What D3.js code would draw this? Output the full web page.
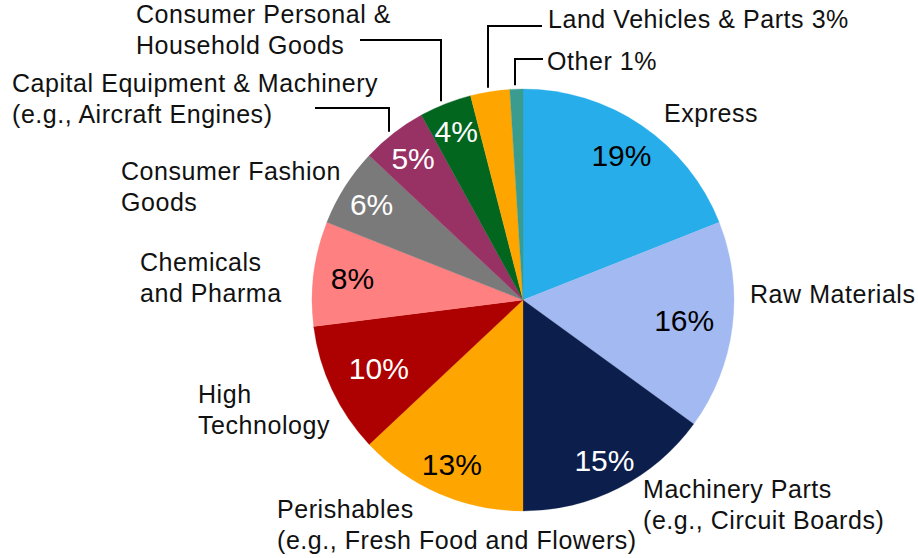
<!DOCTYPE html>
<html>
<head>
<meta charset="utf-8">
<script src="https://cdn.jsdelivr.net/npm/d3@7"></script>
<style>
  body { margin: 0; background: #fff; }
  svg text { font-family: "Liberation Sans", Arial, sans-serif; }
</style>
</head>
<body>
<svg id="pie_chart" width="918" height="558" viewBox="0 0 918 558"></svg>
<script>
// Data
const categories = [
    "Express", "Raw Materials", "Machinery Parts", "Perishables", "High Technology",
    "Chemicals and Pharma", "Consumer Fashion Goods", "Capital Equipment & Machinery",
    "Consumer Personal & Household Goods", "Land Vehicles & Parts", "Other"
];
const shares = [19, 16, 15, 13, 10, 8, 6, 5, 4, 3, 1];
const sliceColors = [
    "#27AEEA", "#A3B9F1", "#0C1E4C", "#FFA500", "#AD0000",
    "#FF8080", "#7A7A7A", "#983264", "#02661F", "#FFA500", "#3A9B8F"
];
// label text lines for each category
const labelLines = [
    ["Express"],
    ["Raw Materials"],
    ["Machinery Parts", "(e.g., Circuit Boards)"],
    ["Perishables", "(e.g., Fresh Food and Flowers)"],
    ["High", "Technology"],
    ["Chemicals", "and Pharma"],
    ["Consumer Fashion", "Goods"],
    ["Capital Equipment & Machinery", "(e.g., Aircraft Engines)"],
    ["Consumer Personal &", "Household Goods"],
    ["Land Vehicles & Parts 3%"],
    ["Other 1%"]
];

// Layout
const cx = 523, cy = 300, radius = 211;
const lineGap = 31;
// outer label positions (left x, first baseline)
const labelPos = [
    [664, 122], [750, 303], [643, 498], [277, 518], [198, 403], [140, 271],
    [121, 180], [12, 92], [136, 23], [548, 28], [547, 70]
];
// radius factor for percentage labels inside slices (null = no inner label)
const pctRadius = [0.83, 0.77, 0.85, 0.85, 0.755, 0.815, 0.85, 0.85, 0.86, null, null];
const pctColor = ["#000", "#000", "#fff", "#000", "#fff", "#000", "#fff", "#fff", "#fff", null, null];
// leader lines: horizontal from x0 to elbow x at y, then down to the pie edge
const leaders = [
    { x0: 315, x1: 389, y: 108 },
    { x0: 360, x1: 441, y: 40 },
    { x0: 542, x1: 488, y: 26 },
    { x0: 543, x1: 515, y: 59 }
];

const svg = d3.select("#pie_chart");
const data = categories.map((c, i) => ({ name: c, value: shares[i], i: i }));

const pie = d3.pie().sort(null).value(d => d.value);
const arc = d3.arc().innerRadius(0).outerRadius(radius);
const arcs = pie(data);

const g = svg.append("g").attr("transform", `translate(${cx},${cy})`);

g.selectAll("path.slice")
    .data(arcs)
    .enter().append("path")
    .attr("class", "slice")
    .attr("d", arc)
    .attr("fill", d => sliceColors[d.data.i])
    .attr("stroke", d => sliceColors[d.data.i])
    .attr("stroke-width", 0.3);

// percentage labels inside
g.selectAll("text.pct")
    .data(arcs.filter(d => pctRadius[d.data.i] !== null))
    .enter().append("text")
    .attr("class", "pct")
    .attr("transform", d => {
        const r = radius * pctRadius[d.data.i];
        const c = d3.arc().innerRadius(r).outerRadius(r).centroid(d);
        return `translate(${c[0]},${c[1]})`;
    })
    .attr("dy", "0.36em")
    .attr("text-anchor", "middle")
    .style("font-size", "30px")
    .attr("fill", d => pctColor[d.data.i])
    .text(d => `${d.data.value}%`);

// outer labels
const labels = svg.append("g").attr("class", "labels");
labelLines.forEach((lines, i) => {
    const t = labels.append("text")
        .attr("x", labelPos[i][0])
        .attr("y", labelPos[i][1])
        .style("font-size", "25px")
        .style("letter-spacing", "0.55px")
        .attr("fill", "#111");
    lines.forEach((ln, k) => {
        t.append("tspan")
            .attr("x", labelPos[i][0])
            .attr("dy", k === 0 ? 0 : lineGap)
            .text(ln);
    });
});

// leader lines
const line = d3.line();
leaders.forEach(l => {
    const dx = l.x1 - cx;
    const yEdge = cy - Math.sqrt((radius + 4) ** 2 - dx * dx);
    svg.append("path")
        .attr("d", line([[l.x0, l.y], [l.x1, l.y], [l.x1, yEdge]]))
        .attr("fill", "none")
        .attr("stroke", "#000")
        .attr("stroke-width", 2);
});
</script>
</body>
</html>
